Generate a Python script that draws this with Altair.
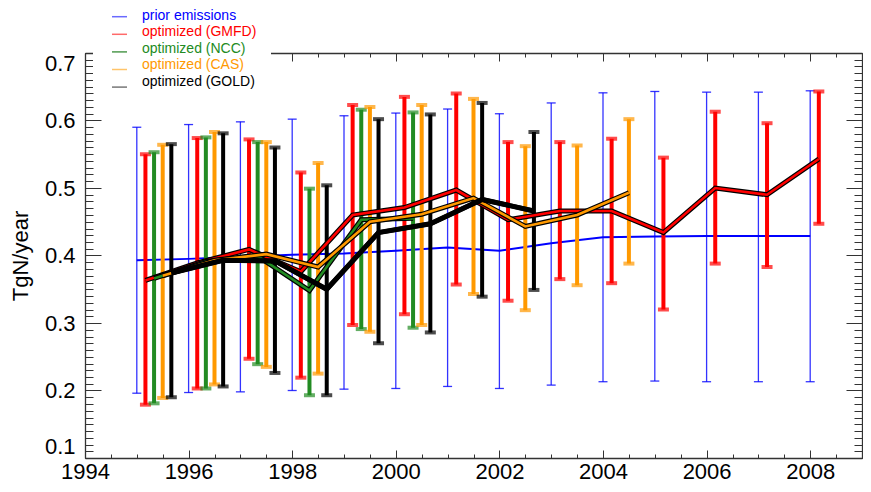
import altair as alt
import pandas as pd

# ---------------- data ----------------
prior_years = list(range(1995, 2009))
prior_val = [0.393, 0.395, 0.398, 0.401, 0.403, 0.407, 0.412, 0.407, 0.418, 0.427, 0.428, 0.429, 0.429, 0.429]
prior_lo = [0.196, 0.197, 0.198, 0.200, 0.202, 0.203, 0.206, 0.203, 0.208, 0.213, 0.214, 0.213, 0.213, 0.213]
prior_hi = [0.590, 0.594, 0.598, 0.602, 0.607, 0.611, 0.617, 0.610, 0.626, 0.641, 0.643, 0.642, 0.642, 0.644]

gmfd_years = list(range(1995, 2009))
gmfd_val = [0.363, 0.389, 0.409, 0.376, 0.460, 0.471, 0.497, 0.453, 0.466, 0.466, 0.434, 0.500, 0.490, 0.543]
gmfd_lo = [0.179, 0.203, 0.247, 0.219, 0.297, 0.313, 0.357, 0.333, 0.365, 0.359, 0.320, 0.388, 0.383, 0.447]
gmfd_hi = [0.550, 0.574, 0.572, 0.523, 0.623, 0.635, 0.640, 0.568, 0.568, 0.573, 0.545, 0.613, 0.596, 0.643]

ncc_years = list(range(1995, 2001))
ncc_val = [0.366, 0.391, 0.399, 0.348, 0.453, 0.455]
ncc_lo = [0.181, 0.203, 0.239, 0.193, 0.291, 0.293]
ncc_hi = [0.553, 0.575, 0.568, 0.499, 0.616, 0.612]

cas_years = list(range(1995, 2005))
cas_val = [0.370, 0.393, 0.402, 0.383, 0.450, 0.461, 0.485, 0.443, 0.460, 0.493]
cas_lo = [0.189, 0.209, 0.235, 0.225, 0.287, 0.297, 0.343, 0.319, 0.356, 0.388]
cas_hi = [0.564, 0.583, 0.568, 0.537, 0.620, 0.623, 0.632, 0.562, 0.563, 0.602]

gold_years = list(range(1995, 2003))
gold_val = [0.374, 0.393, 0.392, 0.350, 0.434, 0.447, 0.483, 0.466]
gold_lo = [0.190, 0.206, 0.226, 0.193, 0.270, 0.286, 0.339, 0.349]
gold_hi = [0.565, 0.581, 0.560, 0.504, 0.602, 0.609, 0.626, 0.583]

legend_labels = ["prior emissions", "optimized (GMFD)", "optimized (NCC)",
                 "optimized (CAS)", "optimized (GOLD)"]

x_major = [1994, 1996, 1998, 2000, 2002, 2004, 2006, 2008]
x_minor = [1994 + 0.5 * i for i in range(31)]
y_major = [0.1, 0.2, 0.3, 0.4, 0.5, 0.6, 0.7]
y_minor = [round(0.1 + 0.01 * i, 2) for i in range(61)]

# ---------------- styles ----------------
BLUE, RED, GREEN, ORANGE, BLACK = "#0000ff", "#ff0000", "#228b22", "#ff9900", "#000000"
legend_text_colors = [BLUE, RED, GREEN, ORANGE, BLACK]
legend_line_colors = ["#6a6aff", "#ff6a6a", "#4f9a4f", "#ffc46a", "#777777"]
FR = "#333333"
FONT = "Liberation Sans"
W, H = 777, 405


def frame(years, val, lo, hi, offset):
    return pd.DataFrame({"x": [y + offset for y in years], "val": val, "lo": lo, "hi": hi})


prior_df = frame(prior_years, prior_val, prior_lo, prior_hi, 0.0)
opt_series = [
    (frame(gmfd_years, gmfd_val, gmfd_lo, gmfd_hi, 1 / 6), RED),
    (frame(ncc_years, ncc_val, ncc_lo, ncc_hi, 2 / 6), GREEN),
    (frame(cas_years, cas_val, cas_lo, cas_hi, 3 / 6), ORANGE),
    (frame(gold_years, gold_val, gold_lo, gold_hi, 4 / 6), BLACK),
]

xs = alt.Scale(domain=[1994, 2009], nice=False, zero=False)
ys = alt.Scale(domain=[0.1, 0.7], nice=False, zero=False)
X = alt.X("x:Q", scale=xs, axis=None)


def Y(field):
    return alt.Y(field, scale=ys, axis=None)


layers = []

# ---------------- axes (frame + inward ticks) ----------------
ax_common = dict(grid=False, title=None, zindex=0, tickColor=FR, tickWidth=1, domainColor=FR, domainWidth=1.3)

main_axes = alt.Chart(prior_df).mark_point(opacity=0).encode(
    x=alt.X("x:Q", scale=xs, axis=alt.Axis(
        orient="bottom", values=x_major, format="d", ticks=False, tickSize=0,
        labelPadding=3, labelFlush=False, labelFontSize=22, labelFont=FONT,
        labelColor="black", domain=True, grid=False, title=None, zindex=0,
        domainColor=FR, domainWidth=1.3)),
    y=alt.Y("val:Q", scale=ys, axis=alt.Axis(
        orient="left", values=y_major, format=".1f", ticks=False, tickSize=0,
        labelPadding=10, labelFlush=True, labelFontSize=22, labelFont=FONT,
        labelColor="black", domain=True, grid=False, zindex=0,
        domainColor=FR, domainWidth=1.3,
        title="TgN/year", titleFontSize=22, titleFont=FONT,
        titleFontWeight="normal", titleColor="black", titlePadding=12)),
)
layers.append(main_axes)


def tick_layer(xorient, xoff, xvals, xsize, yorient, yoff, yvals, ysize, domain):
    return alt.Chart(prior_df).mark_point(opacity=0).encode(
        x=alt.X("x:Q", scale=xs, axis=alt.Axis(
            orient=xorient, offset=xoff, values=xvals, tickSize=xsize,
            labels=False, domain=domain, **ax_common)),
        y=alt.Y("val:Q", scale=ys, axis=alt.Axis(
            orient=yorient, offset=yoff, values=yvals, tickSize=ysize,
            labels=False, domain=domain, **ax_common)),
    )


# inward ticks on bottom / left
layers.append(tick_layer("top", -H, x_major, 8, "right", -W, y_major, 16, False))
layers.append(tick_layer("top", -H, x_minor, 4, "right", -W, y_minor, 8, False))
# top / right frame with inward ticks
layers.append(tick_layer("bottom", -H, x_major, 8, "left", -W, y_major, 16, True))
layers.append(tick_layer("bottom", -H, x_minor, 4, "left", -W, y_minor, 8, False))

# ---------------- prior emissions ----------------
layers.append(alt.Chart(prior_df).mark_rule(color=BLUE, strokeWidth=1.3, opacity=0.8).encode(
    x=X, y=Y("lo:Q"), y2="hi:Q"))
for f in ["lo:Q", "hi:Q"]:
    layers.append(alt.Chart(prior_df).mark_tick(
        color=BLUE, orient="horizontal", size=9, thickness=1.3, opacity=0.8).encode(x=X, y=Y(f)))
layers.append(alt.Chart(prior_df).mark_line(color=BLUE, strokeWidth=2).encode(x=X, y=Y("val:Q")))

# ---------------- optimized error bars ----------------
for df, col in opt_series:
    layers.append(alt.Chart(df).mark_rule(color=col, strokeWidth=4).encode(
        x=X, y=Y("lo:Q"), y2="hi:Q"))
    for f in ["lo:Q", "hi:Q"]:
        layers.append(alt.Chart(df).mark_tick(
            color=col, orient="horizontal", size=11, thickness=4).encode(x=X, y=Y(f)))

# ---------------- optimized lines (black outline + colour) ----------------
for df, col in opt_series:
    layers.append(alt.Chart(df).mark_line(color=BLACK, strokeWidth=5).encode(x=X, y=Y("val:Q")))
    layers.append(alt.Chart(df).mark_line(
        color=col, strokeWidth=2.6 if col != BLACK else 4.6).encode(x=X, y=Y("val:Q")))

# ---------------- legend ----------------
layers.append(alt.Chart(pd.DataFrame({"a": [0]})).mark_rect(color="white").encode(
    x=alt.value(8), x2=alt.value(186), y=alt.value(-45), y2=alt.value(40)))

legend_df = pd.DataFrame({
    "label": legend_labels,
    "tcol": legend_text_colors,
    "lcol": legend_line_colors,
    "idx": list(range(len(legend_labels))),
})
legend_base = alt.Chart(legend_df).transform_calculate(
    ty="-37.0 + 16.45 * datum.idx", sy="-36.3 + 17.6 * datum.idx")
layers.append(legend_base.mark_rule(strokeWidth=1.5).encode(
    x=alt.value(27), x2=alt.value(42),
    y=alt.Y("sy:Q", scale=None, axis=None),
    color=alt.Color("lcol:N", scale=None)))
layers.append(legend_base.mark_text(align="left", baseline="middle", fontSize=14, font=FONT).encode(
    x=alt.value(57),
    y=alt.Y("ty:Q", scale=None, axis=None),
    text="label:N",
    color=alt.Color("tcol:N", scale=None)))

chart = alt.layer(*layers).resolve_axis(x="independent", y="independent").properties(
    width=W, height=H,
    autosize=alt.AutoSizeParams(type="none"),
    padding={"left": 77, "top": 45, "right": 1, "bottom": 26},
    background="white",
).configure_view(stroke=None)

chart.save("out.html", embed_options={"renderer": "svg", "actions": False})
